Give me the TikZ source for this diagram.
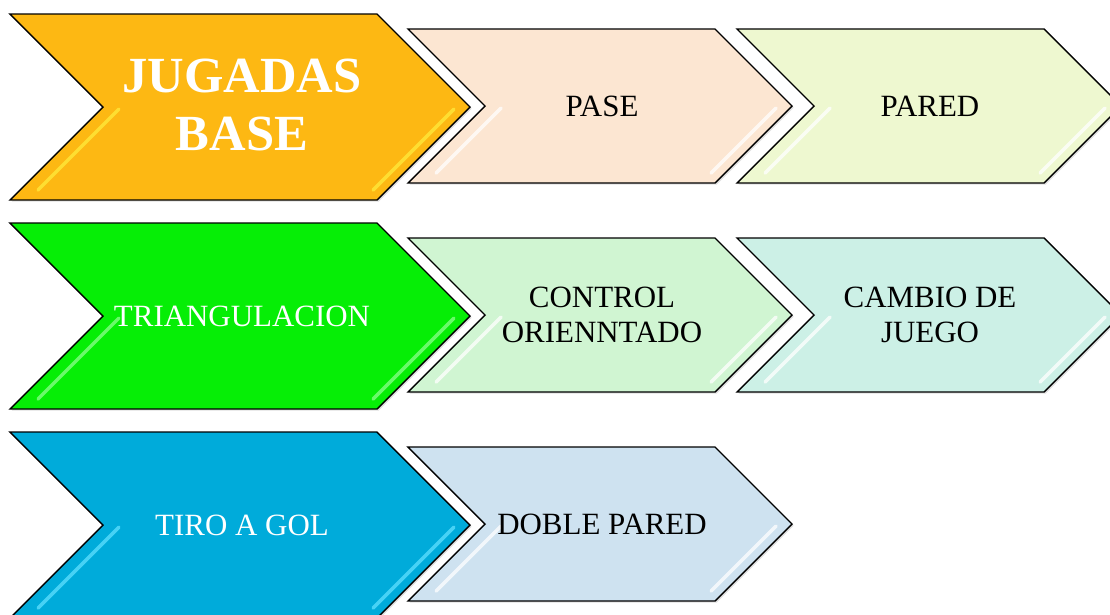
\documentclass[tikz,border=0pt]{standalone}
\usepackage{fontspec}
\setmainfont{Liberation Serif}
\usetikzlibrary{shadows}

\definecolor{jugOrange}{HTML}{FDB813}
\definecolor{jugOrangeHi}{HTML}{FFEB3C}
\definecolor{paseFill}{HTML}{FCE6D2}
\definecolor{paredFill}{HTML}{EEF8D0}
\definecolor{triGreen}{HTML}{06EE06}
\definecolor{triGreenHi}{HTML}{8CFF8C}
\definecolor{controlFill}{HTML}{D0F5D2}
\definecolor{cambioFill}{HTML}{CCF0E6}
\definecolor{tiroBlue}{HTML}{00ABDA}
\definecolor{tiroBlueHi}{HTML}{5FE0FF}
\definecolor{dobleFill}{HTML}{CEE2F0}

\begin{document}
\begin{tikzpicture}[x=0.025cm, y=-0.025cm,
    chev/.style={draw=black, line width=1pt, line join=miter,
      drop shadow={opacity=0.25, shadow xshift=1.2pt, shadow yshift=-1.2pt}},
    shine/.style={line width=2.5pt, line cap=round, opacity=0.75},
    bigtxt/.style={text=white, align=center, font=\fontsize{22}{24.8}\selectfont},
    smalltxt/.style={text=black, align=center, font=\fontsize{22}{24.8}\selectfont}]
  \useasboundingbox (0,0) rectangle (1110,614);
  % x / y / width / height / fill / shine
  \foreach \x/\y/\w/\h/\c/\s in {10/14/460/186/jugOrange/jugOrangeHi,
      408/29/384/154/paseFill/white, 737/29/384/154/paredFill/white,
      10/223/460/186/triGreen/triGreenHi,
      408/238/384/154/controlFill/white, 737/238/384/154/cambioFill/white,
      10/432/460/186/tiroBlue/tiroBlueHi,
      408/447/384/154/dobleFill/white}{
    \filldraw[chev, fill=\c] (\x,\y) -- ({\x+\w-\h/2},\y) -- ({\x+\w},{\y+\h/2})
      -- ({\x+\w-\h/2},{\y+\h}) -- (\x,{\y+\h}) -- ({\x+\h/2},{\y+\h/2}) -- cycle;
    \draw[shine, \s] ({\x+\h/2+16},{\y+\h/2+2}) -- ++({-\h/2+12},{\h/2-12});
    \draw[shine, \s] ({\x+\w-16},{\y+\h/2+2}) -- ++({-\h/2+12},{\h/2-12});
  }
  \node[bigtxt, font=\bfseries\fontsize{36}{41}\selectfont] (jugadas) at (242,105) {JUGADAS\\BASE};
  \node[smalltxt] (pase) at (602,106) {PASE};
  \node[smalltxt] (pared) at (930,106) {PARED};
  \node[bigtxt] (triang) at (242,316) {TRIANGULACION};
  \node[smalltxt] (control) at (602,315) {CONTROL\\ORIENNTADO};
  \node[smalltxt] (cambio) at (930,315) {CAMBIO DE\\JUEGO};
  \node[bigtxt] (tiro) at (242,525) {TIRO A GOL};
  \node[smalltxt] (doble) at (602,524) {DOBLE PARED};
\end{tikzpicture}
\end{document}
